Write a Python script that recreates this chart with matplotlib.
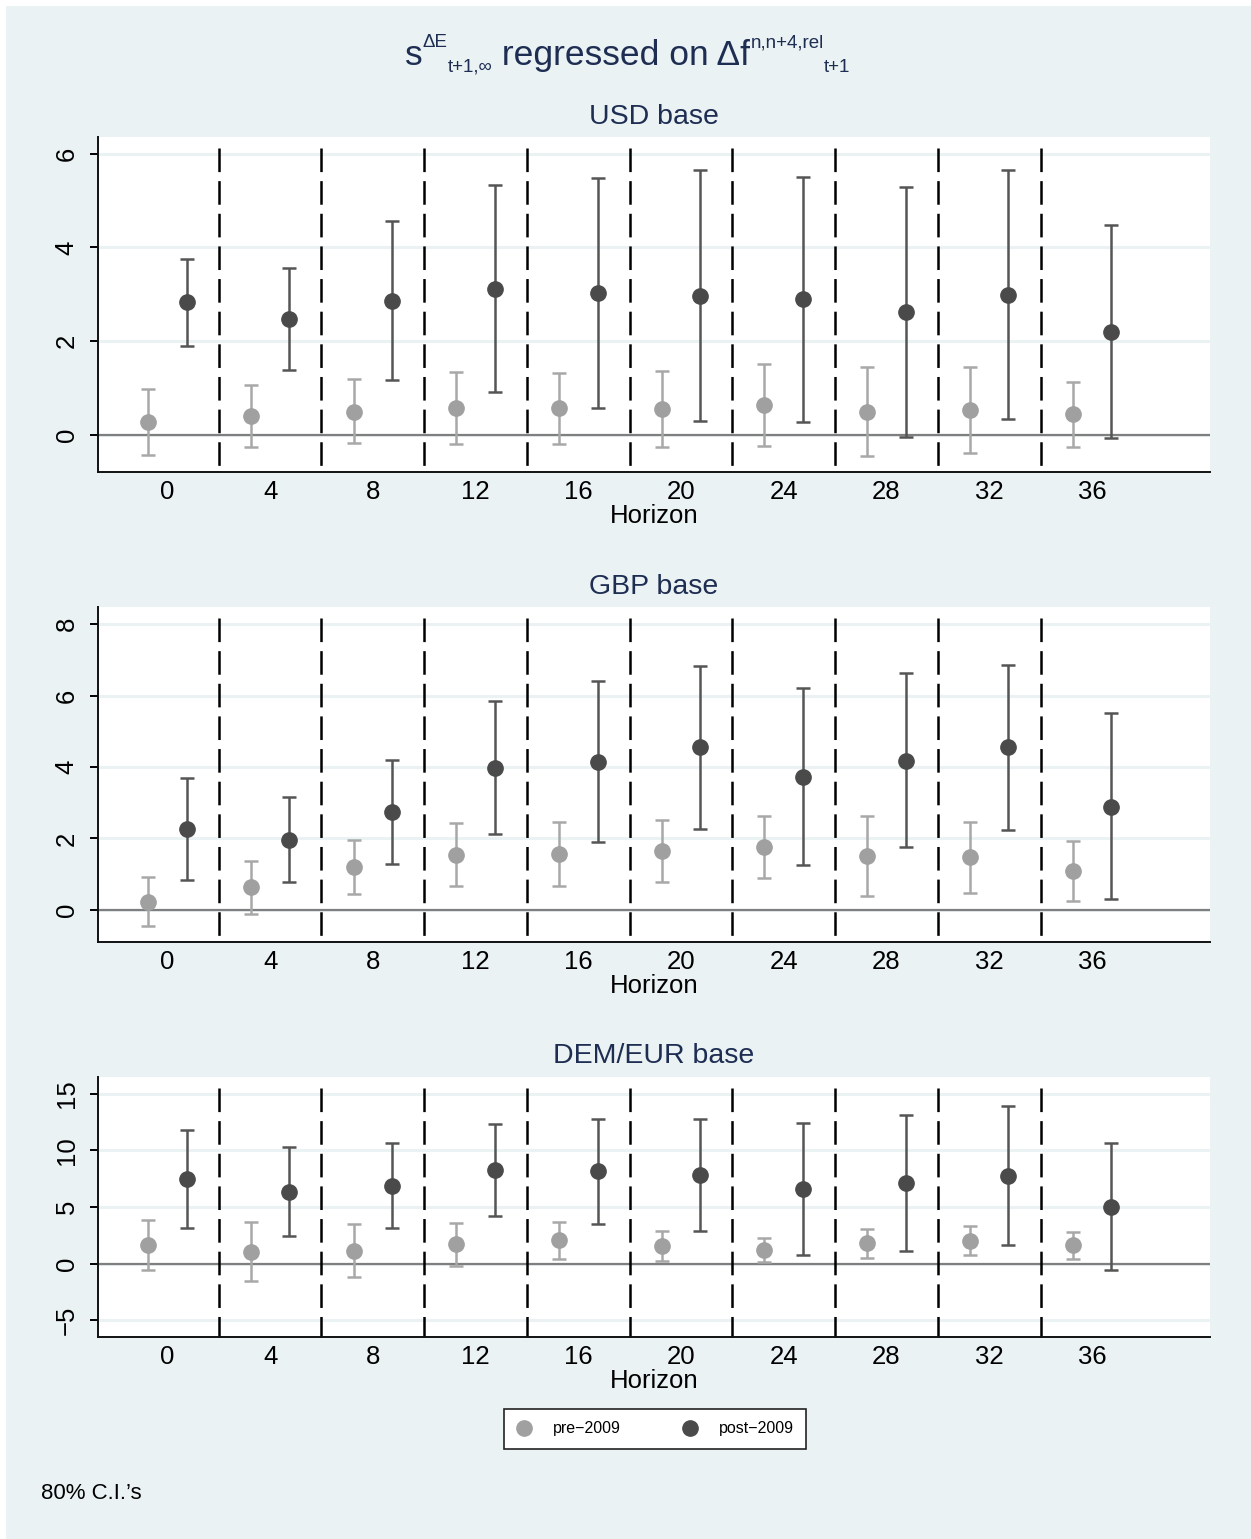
import matplotlib
matplotlib.use("Agg")
import matplotlib.pyplot as plt
from matplotlib.patches import Rectangle
from matplotlib.lines import Line2D
import numpy as np

plt.rcParams['font.family'] = ['Liberation Sans', 'DejaVu Sans']
plt.rcParams['lines.scale_dashes'] = False

# ---------------- data ----------------
horizons = [0, 4, 8, 12, 16, 20, 24, 28, 32, 36]
panel_titles = ["USD base", "GBP base", "DEM/EUR base"]
series_labels = ["pre\u22122009", "post\u22122009"]

usd_pre_est = [0.27, 0.39, 0.49, 0.56, 0.56, 0.54, 0.63, 0.49, 0.52, 0.44]
usd_pre_lo = [-0.43, -0.26, -0.18, -0.21, -0.20, -0.26, -0.24, -0.46, -0.39, -0.26]
usd_pre_hi = [0.98, 1.06, 1.19, 1.34, 1.31, 1.36, 1.50, 1.44, 1.44, 1.13]
usd_post_est = [2.83, 2.46, 2.86, 3.11, 3.02, 2.97, 2.89, 2.61, 2.99, 2.20]
usd_post_lo = [1.90, 1.39, 1.17, 0.90, 0.56, 0.29, 0.26, -0.06, 0.33, -0.07]
usd_post_hi = [3.76, 3.56, 4.57, 5.33, 5.49, 5.66, 5.51, 5.29, 5.66, 4.48]

gbp_pre_est = [0.22, 0.63, 1.20, 1.54, 1.57, 1.64, 1.76, 1.50, 1.47, 1.08]
gbp_pre_lo = [-0.44, -0.11, 0.44, 0.67, 0.68, 0.77, 0.89, 0.39, 0.46, 0.25]
gbp_pre_hi = [0.91, 1.37, 1.97, 2.42, 2.46, 2.51, 2.62, 2.62, 2.47, 1.92]
gbp_post_est = [2.27, 1.96, 2.74, 3.97, 4.15, 4.55, 3.73, 4.17, 4.55, 2.89]
gbp_post_lo = [0.85, 0.79, 1.29, 2.13, 1.89, 2.26, 1.26, 1.75, 2.23, 0.31]
gbp_post_hi = [3.68, 3.15, 4.21, 5.84, 6.42, 6.82, 6.22, 6.63, 6.85, 5.50]

eur_pre_est = [1.65, 1.00, 1.12, 1.71, 2.04, 1.56, 1.18, 1.80, 2.01, 1.62]
eur_pre_lo = [-0.53, -1.56, -1.21, -0.18, 0.41, 0.21, 0.12, 0.53, 0.77, 0.41]
eur_pre_hi = [3.87, 3.66, 3.48, 3.57, 3.66, 2.92, 2.27, 3.07, 3.34, 2.78]
eur_post_est = [7.44, 6.32, 6.88, 8.24, 8.15, 7.82, 6.55, 7.12, 7.74, 4.99]
eur_post_lo = [3.10, 2.42, 3.16, 4.16, 3.51, 2.92, 0.71, 1.15, 1.62, -0.59]
eur_post_hi = [11.81, 10.30, 10.66, 12.34, 12.81, 12.75, 12.43, 13.11, 13.94, 10.63]

yticks_usd = [0, 2, 4, 6]
yticks_gbp = [0, 2, 4, 6, 8]
yticks_eur = [-5, 0, 5, 10, 15]

panels = [
    (usd_pre_est, usd_pre_lo, usd_pre_hi, usd_post_est, usd_post_lo, usd_post_hi, yticks_usd, (-0.80, 6.36)),
    (gbp_pre_est, gbp_pre_lo, gbp_pre_hi, gbp_post_est, gbp_post_lo, gbp_post_hi, yticks_gbp, (-0.90, 8.48)),
    (eur_pre_est, eur_pre_lo, eur_pre_hi, eur_post_est, eur_post_lo, eur_post_hi, yticks_eur, (-6.5, 16.5)),
]

# ---------------- style ----------------
W, H = 1251, 1539
BG = '#EAF2F3'
NAVY = '#1E2D52'
PRE_M, PRE_L = '#A0A0A0', '#A8A8A8'
POST_M, POST_L = '#4A4A4A', '#555555'
OFFSET = 0.75

fig = plt.figure(figsize=(W / 100, H / 100), dpi=100)
fig.patch.set_facecolor('white')
fig.add_artist(Rectangle((6 / W, 0), 1 - 6 / W, 1 - 6 / H, transform=fig.transFigure,
                         facecolor=BG, edgecolor='none', zorder=-10))

# axes boxes in pixels: (top, bottom)
boxes = [(137, 472), (607, 942), (1077, 1337)]
left_px, right_px = 98, 1210
title_y = [117, 587, 1056]
xlabel_y = [516, 986, 1381]

h = np.array(horizons, dtype=float)
for i, (box, pdata) in enumerate(zip(boxes, panels)):
    top, bot = box
    ax = fig.add_axes([left_px / W, 1 - bot / H, (right_px - left_px) / W, (bot - top) / H])
    ax.set_facecolor('white')
    pe, pl, ph, qe, ql, qh, yt, ylim = pdata
    pe, pl, ph, qe, ql, qh = map(np.array, (pe, pl, ph, qe, ql, qh))
    ax.set_xlim(-2.7, 40.6)
    ax.set_ylim(*ylim)
    ax.set_yticks(yt)
    ax.set_xticks(horizons)
    ax.set_xticklabels([str(v) for v in horizons])
    for yv in yt:
        ax.axhline(yv, color=BG, lw=2.2, zorder=0)
    ax.axhline(0, color='#7F7F7F', lw=1.6, zorder=1)
    ystart = 1 - 11 / (bot - top)
    for x in h[:-1] + 2:
        ax.plot([x, x], [ystart, 0], transform=ax.get_xaxis_transform(), color='black',
                lw=1.8, linestyle=(0, (17, 6.5)), zorder=2, clip_on=False,
                dash_capstyle='butt')
    ax.errorbar(h - OFFSET, pe, yerr=[pe - pl, ph - pe], fmt='o', ms=11, color=PRE_M,
                ecolor=PRE_L, elinewidth=1.8, capsize=5, capthick=1.8, zorder=3)
    ax.errorbar(h + OFFSET, qe, yerr=[qe - ql, qh - qe], fmt='o', ms=11, color=POST_M,
                ecolor=POST_L, elinewidth=1.8, capsize=5, capthick=1.8, zorder=3)
    for s in ['top', 'right']:
        ax.spines[s].set_visible(False)
    for s in ['left', 'bottom']:
        ax.spines[s].set_linewidth(1.4)
        ax.spines[s].set_color('#111111')
    ax.tick_params(axis='x', length=0, pad=6, labelsize=18.5)
    ax.tick_params(axis='y', length=6, width=1.4, pad=8, labelsize=18.5)
    for lab in ax.get_yticklabels():
        lab.set_rotation(90)
        lab.set_va('center')
    fig.text(654 / W, 1 - title_y[i] / H, panel_titles[i], ha='center', va='center',
             fontsize=20.5, color=NAVY)
    fig.text(654 / W, 1 - xlabel_y[i] / H, "Horizon", ha='center', va='center', fontsize=18.5,
             color='black')

# ---------------- main title (pieces laid out in sequence) ----------------
renderer = fig.canvas.get_renderer()
pieces = [("s", 25.5, 65), ("\u0394E", 13.5, 47), ("t+1,\u221e", 13.5, 72),
          (" regressed on \u0394f", 25.5, 65), ("n,n+4,rel", 13.5, 47), ("t+1", 13.5, 72)]
xpos = 405
for k, (txt, fs, base) in enumerate(pieces):
    t = fig.text(xpos / W, 1 - base / H, txt, fontsize=fs, color=NAVY, ha='left', va='baseline')
    bb = t.get_window_extent(renderer=renderer)
    xpos += bb.width

# ---------------- legend ----------------
handles = [Line2D([], [], marker='o', ls='none', ms=11, color=PRE_M),
           Line2D([], [], marker='o', ls='none', ms=11, color=POST_M)]
leg = fig.legend(handles, series_labels, loc='center', bbox_to_anchor=(655 / W, 1 - 1429 / H),
                 ncol=2, frameon=True, fancybox=False, edgecolor='#222222', fontsize=11.5,
                 columnspacing=3.8, handletextpad=1.3, borderpad=0.8, handlelength=1.0,
                 framealpha=1.0)
leg.get_frame().set_linewidth(1.2)
leg.get_frame().set_facecolor('white')

fig.text(41 / W, 1 - 1499 / H, "80% C.I.\u2019s", fontsize=16, color='black', ha='left',
         va='baseline')

fig.savefig("out.png", dpi=100, facecolor=fig.get_facecolor())
